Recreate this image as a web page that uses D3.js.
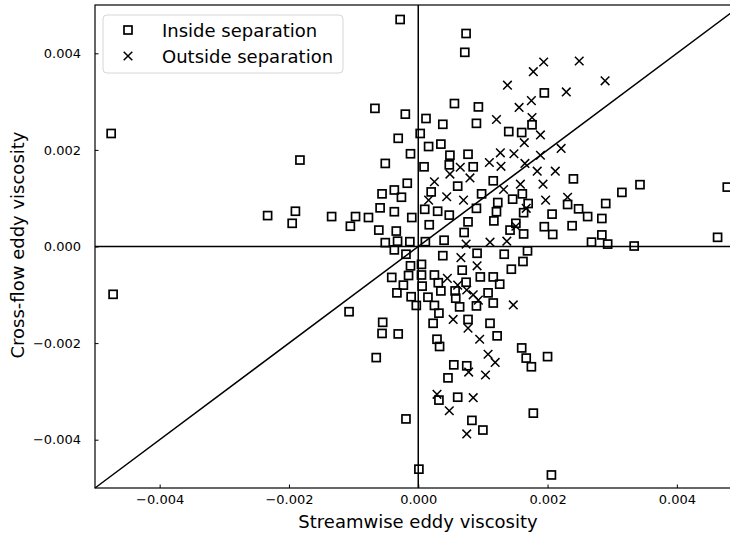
<!DOCTYPE html>
<html>
<head>
<meta charset="utf-8">
<script src="https://cdn.jsdelivr.net/npm/d3@7"></script>
<style>
  body { margin: 0; background: #fff; }
  text { font-family: "DejaVu Sans", sans-serif; fill: #000; }
</style>
</head>
<body>
<div id="scatter"></div>
<script>
// streamwise (x) vs cross-flow (y) eddy viscosity
var insidePoints = [
  [-0.00028, 0.00470], [0.00074, 0.00441], [0.00072, 0.00402], [-0.00067, 0.00286],
  [-0.00020, 0.00274], [0.00056, 0.00296], [0.00093, 0.00289], [0.00012, 0.00265],
  [0.00038, 0.00253], [0.00090, 0.00255], [-0.00031, 0.00224], [0.00003, 0.00234],
  [0.00016, 0.00207], [0.00035, 0.00212], [-0.00012, 0.00192], [0.00049, 0.00189],
  [0.00077, 0.00191], [-0.00051, 0.00172], [0.00009, 0.00165], [0.00048, 0.00169],
  [0.00085, 0.00165], [0.00195, 0.00318], [0.00140, 0.00238], [0.00160, 0.00236],
  [0.00176, 0.00252], [-0.00017, 0.00131], [-0.00056, 0.00109], [-0.00037, 0.00117],
  [-0.00026, 0.00102], [0.00020, 0.00113], [0.00061, 0.00125], [0.00098, 0.00109],
  [-0.00059, 0.00080], [-0.00037, 0.00072], [-0.00097, 0.00062], [-0.00077, 0.00060],
  [-0.00105, 0.00042], [-0.00010, 0.00060], [0.00010, 0.00077], [0.00030, 0.00073],
  [0.00048, 0.00065], [0.00090, 0.00079], [0.00017, 0.00045], [0.00077, 0.00051],
  [0.00071, 0.00029], [-0.00061, 0.00034], [-0.00034, 0.00032], [-0.00051, 0.00008],
  [-0.00032, 0.00011], [-0.00013, 0.00010], [0.00011, 0.00010], [0.00040, 0.00013],
  [-0.00037, -0.00007], [-0.00019, -0.00016], [0.00038, -0.00019], [0.00091, -0.00014],
  [-0.00012, -0.00040], [0.00005, -0.00037], [-0.00041, -0.00064], [-0.00015, -0.00060],
  [0.00005, -0.00059], [0.00025, -0.00059], [0.00068, -0.00049], [0.00096, -0.00063],
  [-0.00023, -0.00080], [0.00006, -0.00082], [0.00031, -0.00075], [0.00035, -0.00092],
  [0.00074, -0.00074], [0.00057, -0.00092], [-0.00033, -0.00096], [-0.00011, -0.00104],
  [0.00015, -0.00105], [0.00058, -0.00107], [0.00108, -0.00096], [-0.00003, -0.00122],
  [0.00025, -0.00122], [0.00064, -0.00125], [0.00090, -0.00123], [0.00116, -0.00117],
  [-0.00107, -0.00135], [0.00032, -0.00138], [-0.00055, -0.00157], [0.00023, -0.00159],
  [0.00077, -0.00151], [0.00111, -0.00159], [0.00240, 0.00140], [0.00343, 0.00128],
  [0.00315, 0.00112], [0.00116, 0.00136], [0.00161, 0.00109], [0.00146, 0.00098],
  [0.00170, 0.00089], [0.00123, 0.00091], [0.00121, 0.00072], [0.00117, 0.00053],
  [0.00163, 0.00070], [0.00207, 0.00067], [0.00231, 0.00087], [0.00248, 0.00078],
  [0.00262, 0.00062], [0.00290, 0.00089], [0.00284, 0.00058], [0.00151, 0.00048],
  [0.00142, 0.00034], [0.00163, 0.00026], [0.00195, 0.00041], [0.00208, 0.00025],
  [0.00238, 0.00043], [0.00284, 0.00024], [0.00268, 0.00009], [0.00293, 0.00005],
  [0.00334, 0.00001], [0.00133, -0.00016], [0.00169, -0.00009], [0.00162, -0.00031],
  [0.00144, -0.00047], [0.00116, -0.00063], [0.00126, -0.00078], [-0.00056, -0.00180],
  [-0.00031, -0.00181], [-0.00065, -0.00230], [0.00029, -0.00192], [0.00033, -0.00207],
  [0.00055, -0.00245], [0.00075, -0.00247], [0.00046, -0.00272], [0.00061, -0.00312],
  [0.00032, -0.00318], [0.00083, -0.00360], [0.00100, -0.00380], [-0.00019, -0.00357],
  [0.00001, -0.00461], [0.00122, -0.00185], [0.00160, -0.00210], [0.00167, -0.00231],
  [0.00175, -0.00249], [0.00200, -0.00228], [0.00178, -0.00345], [0.00206, -0.00473],
  [-0.00475, 0.00234], [-0.00183, 0.00179], [-0.00233, 0.00064], [-0.00190, 0.00073],
  [-0.00195, 0.00048], [-0.00134, 0.00062], [-0.00472, -0.00099], [0.00478, 0.00123],
  [0.00463, 0.00019]
];

var outsidePoints = [
  [0.00065, 0.00164], [0.00110, 0.00174], [0.00194, 0.00382], [0.00178, 0.00362],
  [0.00249, 0.00384], [0.00138, 0.00334], [0.00289, 0.00343], [0.00229, 0.00320],
  [0.00175, 0.00302], [0.00156, 0.00288], [0.00121, 0.00263], [0.00176, 0.00267],
  [0.00189, 0.00231], [0.00164, 0.00215], [0.00127, 0.00194], [0.00148, 0.00192],
  [0.00221, 0.00203], [0.00189, 0.00189], [0.00165, 0.00172], [0.00128, 0.00166],
  [0.00184, 0.00156], [0.00212, 0.00156], [0.00049, 0.00150], [0.00080, 0.00142],
  [0.00025, 0.00134], [0.00044, 0.00103], [0.00070, 0.00096], [0.00016, 0.00096],
  [0.00074, 0.00005], [0.00111, 0.00009], [0.00066, -0.00023], [0.00091, -0.00040],
  [0.00045, -0.00066], [0.00061, -0.00080], [0.00075, -0.00090], [0.00085, -0.00100],
  [0.00093, -0.00111], [0.00054, -0.00151], [0.00077, -0.00169], [0.00158, 0.00129],
  [0.00193, 0.00129], [0.00132, 0.00118], [0.00197, 0.00096], [0.00231, 0.00102],
  [0.00167, 0.00079], [0.00151, 0.00042], [0.00137, 0.00011], [0.00147, -0.00121],
  [0.00095, -0.00192], [0.00108, -0.00223], [0.00078, -0.00260], [0.00104, -0.00266],
  [0.00029, -0.00306], [0.00085, -0.00313], [0.00048, -0.00340], [0.00075, -0.00388],
  [0.00119, -0.00240]
];

var xTicks = [-0.004, -0.002, 0.000, 0.002, 0.004];
var yTicks = [-0.004, -0.002, 0.000, 0.002, 0.004];
var seriesNames = ["Inside separation", "Outside separation"];
var axisLimit = [-0.005, 0.005];

var svgWidth = 730;
var svgHeight = 536;

var margin = { top: 5, left: 95 };
var width = 646.5;
var height = 483;

var svg = d3.select("#scatter")
    .append("svg")
    .attr("width", svgWidth)
    .attr("height", svgHeight);

var chartGroup = svg.append("g")
    .attr("transform", `translate(${margin.left}, ${margin.top})`);

var xScale = d3.scaleLinear().domain(axisLimit).range([0, width]);
var yScale = d3.scaleLinear().domain(axisLimit).range([height, 0]);
var fmt = d3.format(".3f");

var bottomAxis = d3.axisBottom(xScale).tickValues(xTicks).tickFormat(fmt)
    .tickSizeInner(-3.5).tickSizeOuter(0).tickPadding(7);
var leftAxis = d3.axisLeft(yScale).tickValues(yTicks).tickFormat(fmt)
    .tickSizeInner(-3.5).tickSizeOuter(0).tickPadding(14);

var xAxisG = chartGroup.append("g")
    .attr("transform", `translate(0, ${height})`)
    .call(bottomAxis);
var yAxisG = chartGroup.append("g")
    .call(leftAxis);

[xAxisG, yAxisG].forEach(function(g) {
    g.select(".domain").remove();
    g.selectAll("line").attr("stroke", "#000").attr("stroke-width", 1);
    g.selectAll("text").style("font-size", "13px").attr("fill", "#000");
});

// frame
chartGroup.append("rect")
    .attr("width", width)
    .attr("height", height)
    .attr("fill", "none")
    .attr("stroke", "#000")
    .attr("stroke-width", 1.2);

// zero lines and the y = x line
chartGroup.append("line")
    .attr("x1", xScale(0)).attr("x2", xScale(0))
    .attr("y1", 0).attr("y2", height)
    .attr("stroke", "#000").attr("stroke-width", 1.5);
chartGroup.append("line")
    .attr("x1", 0).attr("x2", width)
    .attr("y1", yScale(0)).attr("y2", yScale(0))
    .attr("stroke", "#000").attr("stroke-width", 1.5);
chartGroup.append("line")
    .attr("x1", xScale(axisLimit[0])).attr("y1", yScale(axisLimit[0]))
    .attr("x2", xScale(axisLimit[1])).attr("y2", yScale(axisLimit[1]))
    .attr("stroke", "#000").attr("stroke-width", 1.5);

var sq = 8;
var cr = 4.3;

chartGroup.append("g").selectAll("rect")
    .data(insidePoints)
    .enter()
    .append("rect")
    .attr("x", d => xScale(d[0]) - sq / 2)
    .attr("y", d => yScale(d[1]) - sq / 2)
    .attr("width", sq)
    .attr("height", sq)
    .attr("fill", "none")
    .attr("stroke", "#000")
    .attr("stroke-width", 1.7);

chartGroup.append("g").selectAll("path")
    .data(outsidePoints)
    .enter()
    .append("path")
    .attr("d", function(d) {
        var x = xScale(d[0]), y = yScale(d[1]);
        return `M${x - cr},${y - cr}L${x + cr},${y + cr}M${x - cr},${y + cr}L${x + cr},${y - cr}`;
    })
    .attr("fill", "none")
    .attr("stroke", "#000")
    .attr("stroke-width", 1.5);

// legend
var legend = svg.append("g").attr("transform", "translate(103, 15)");
legend.append("rect")
    .attr("width", 240)
    .attr("height", 58)
    .attr("rx", 4)
    .attr("fill", "#fff")
    .attr("fill-opacity", 0.8)
    .attr("stroke", "#d6d6d6")
    .attr("stroke-width", 1);
legend.append("rect")
    .attr("x", 25 - sq / 2).attr("y", 15 - sq / 2)
    .attr("width", sq).attr("height", sq)
    .attr("fill", "none").attr("stroke", "#000").attr("stroke-width", 1.7);
legend.append("path")
    .attr("d", `M${25 - cr},${41 - cr}L${25 + cr},${41 + cr}M${25 - cr},${41 + cr}L${25 + cr},${41 - cr}`)
    .attr("stroke", "#000").attr("stroke-width", 1.5);
legend.selectAll("text.lg")
    .data(seriesNames)
    .enter()
    .append("text")
    .attr("class", "lg")
    .attr("x", 59)
    .attr("y", (d, i) => 21.5 + i * 26)
    .style("font-size", "18px")
    .text(d => d);

// axis titles
svg.append("text")
    .attr("x", 418)
    .attr("y", 528)
    .style("text-anchor", "middle")
    .style("font-size", "18px")
    .text("Streamwise eddy viscosity");

svg.append("text")
    .attr("transform", "translate(24, 245) rotate(-90)")
    .style("text-anchor", "middle")
    .style("font-size", "18px")
    .text("Cross-flow eddy viscosity");
</script>
</body>
</html>
